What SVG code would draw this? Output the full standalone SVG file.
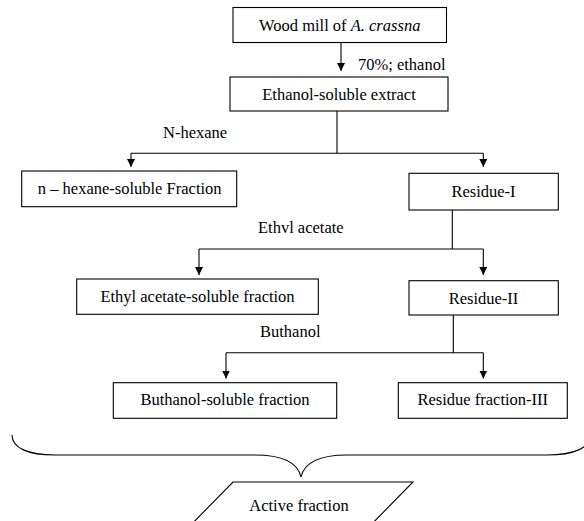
<svg xmlns="http://www.w3.org/2000/svg" width="584" height="521" viewBox="0 0 584 521">
<defs>
<marker id="arr" markerUnits="userSpaceOnUse" markerWidth="8" markerHeight="8" refX="8" refY="4" orient="auto">
<path d="M0,0 L8,4 L0,8 z" fill="#000"/>
</marker>
<style>
.box{fill:#fff;stroke:#000;stroke-width:1.1}
.t{font-family:"Liberation Serif","Times New Roman",serif;font-size:16.5px;fill:#000}
.c{text-anchor:middle}
.ln{fill:none;stroke:#000;stroke-width:1.1}
.ar{fill:none;stroke:#000;stroke-width:1.1;marker-end:url(#arr)}
</style>
</defs>
<rect width="584" height="521" fill="#fff"/>
<g id="connectors">
<line class="ar" x1="341" y1="42.7" x2="341" y2="71"/>
<path class="ln" d="M337,111 V153.3 M131,153.3 H483.3"/>
<line class="ar" x1="131" y1="153.3" x2="131" y2="167"/>
<line class="ar" x1="483.3" y1="153.3" x2="483.3" y2="167"/>
<path class="ln" d="M452.3,210 V249 M199,249 H483.3"/>
<line class="ar" x1="199" y1="249" x2="199" y2="275"/>
<line class="ar" x1="483.3" y1="249" x2="483.3" y2="275"/>
<path class="ln" d="M453.3,315 V352.7 M226,352.7 H483.3"/>
<line class="ar" x1="226" y1="352.7" x2="226" y2="378.5"/>
<line class="ar" x1="483.3" y1="352.7" x2="483.3" y2="378.5"/>
<path id="brace" class="ln" d="M12,435 C12,448 28,455 55,455 L255,455 C284,455 298,464 301,477 C304,464 318,455 347,455 L547,455 C574,455 590,448 590,435"/>
</g>
<g id="labels">
<text class="t" x="358" y="70">70%; ethanol</text>
<text class="t" x="163" y="138">N-hexane</text>
<text class="t" x="258" y="233">Ethvl acetate</text>
<text class="t" x="260" y="336.7">Buthanol</text>
</g>
<g id="wood">
<rect class="box" x="233" y="7.5" width="213.5" height="35"/>
<text class="t c" x="339.7" y="30.5">Wood mill of <tspan font-style="italic">A. crassna</tspan></text>
</g>
<g id="ethanol">
<rect class="box" x="230" y="77" width="218" height="34"/>
<text class="t c" x="339" y="99.5">Ethanol-soluble extract</text>
</g>
<g id="hexane">
<rect class="box" x="21.7" y="171" width="215" height="35.7"/>
<text class="t c" x="129.7" y="193.5">n – hexane-soluble Fraction</text>
</g>
<g id="residue1">
<rect class="box" x="409" y="173.3" width="149.3" height="36.7"/>
<text class="t c" x="483.5" y="196.5">Residue-I</text>
</g>
<g id="ethylacetate">
<rect class="box" x="76.7" y="279" width="241.6" height="35.3"/>
<text class="t c" x="197.5" y="302">Ethyl acetate-soluble fraction</text>
</g>
<g id="residue2">
<rect class="box" x="409" y="280.7" width="149.3" height="34.3"/>
<text class="t c" x="483.5" y="303.5">Residue-II</text>
</g>
<g id="butanol">
<rect class="box" x="113.3" y="382.7" width="223.4" height="35.6"/>
<text class="t c" x="225" y="405">Buthanol-soluble fraction</text>
</g>
<g id="residue3">
<rect class="box" x="398.3" y="382.7" width="169" height="35.6"/>
<text class="t c" x="482.8" y="405">Residue fraction-III</text>
</g>
<g id="active">
<polygon class="box" points="233,482 413,482 362,534 182,534"/>
<text class="t c" x="299" y="510.5">Active fraction</text>
</g>
</svg>
